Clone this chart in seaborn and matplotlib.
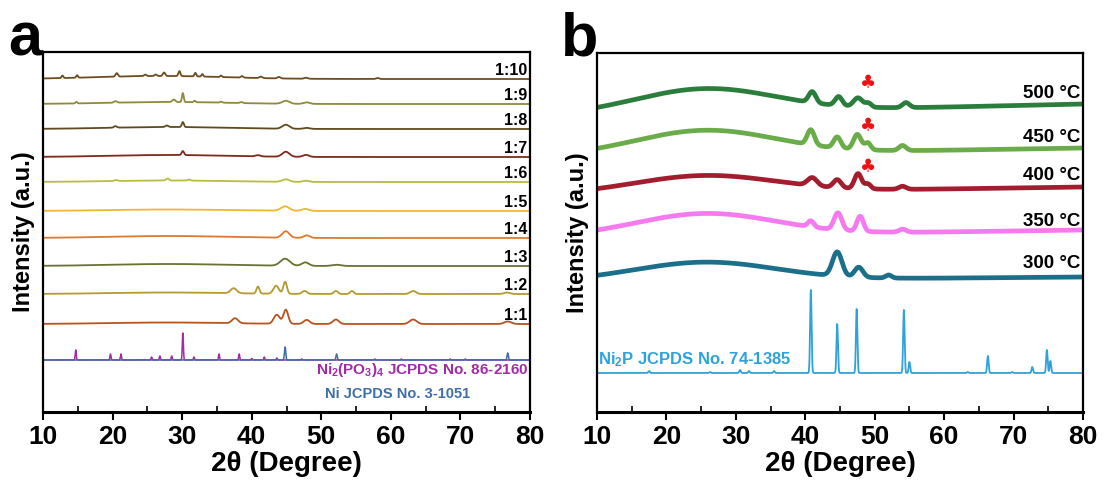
import numpy as np
import pandas as pd
import matplotlib
matplotlib.use("Agg")
import matplotlib.pyplot as plt
import seaborn as sns
from matplotlib import font_manager as fm

# ---------------- data ----------------
two_theta_range = (10, 80)
x_ticks = [10, 20, 30, 40, 50, 60, 70, 80]

# Panel a: Ni:P ratio series, bottom -> top
ratios = ["1:1", "1:2", "1:3", "1:4", "1:5", "1:6", "1:7", "1:8", "1:9", "1:10"]
ratio_colors = ["#b8531f", "#b59a2e", "#6b7132", "#e0792e", "#f2b632",
                "#b7bd3c", "#7d2a1c", "#5f4a1f", "#8e8a3c", "#6e4c22"]
ratio_offsets = [88, 118, 146, 174, 201, 230, 255, 283, 308, 333]
# peaks: (2theta, height, fwhm)
peaks_1_1 = [(28, 1.5, 20), (37.6, 5, 1.0), (43.6, 9, 1.0), (44.9, 14, 0.8), (47.9, 4, 1.0),
             (52.1, 4.5, 1.0), (63.2, 4.5, 1.2), (76.8, 2.5, 1.2)]
peaks_1_2 = [(28, 1.5, 20), (37.4, 5, 1.0), (40.9, 7, 0.5), (43.5, 8, 0.9), (44.8, 12, 0.6),
             (47.6, 3, 0.8), (52.1, 3, 0.7), (54.4, 3, 0.6), (63.2, 3, 1.0), (76.7, 1.5, 1.0)]
peaks_1_3 = [(28, 2, 20), (44.8, 7, 1.6), (47.7, 3.5, 1.2), (52.2, 1.2, 1.5)]
peaks_1_4 = [(28, 2, 20), (44.9, 6.5, 1.2), (47.9, 2.5, 1.0)]
peaks_1_5 = [(28, 1.5, 20), (44.8, 4.5, 1.4), (47.7, 2, 1.2)]
peaks_1_6 = [(28, 1.5, 20), (20.5, 1, 0.5), (27.9, 2, 0.5), (31.0, 1, 0.5), (44.9, 2.5, 1.2), (47.8, 1.2, 1.0)]
peaks_1_7 = [(28, 2, 20), (30.1, 4, 0.4), (40.9, 1.2, 0.8), (44.9, 5, 1.2), (47.8, 2, 1.0)]
peaks_1_8 = [(28, 2, 20), (20.4, 1.5, 0.5), (27.8, 1.5, 0.5), (30.1, 5, 0.35), (44.9, 4, 1.2), (47.9, 1, 1.0)]
peaks_1_9 = [(28, 2, 20), (14.8, 1.5, 0.3), (20.4, 1.5, 0.5), (28.8, 2.5, 0.5), (30.1, 9, 0.3),
             (31.8, 1.5, 0.3), (35.6, 1, 0.4), (38.5, 1, 0.5), (44.9, 3, 1.2), (47.9, 1.5, 1.0)]
peaks_1_10 = [(27, 3, 22), (12.8, 2.5, 0.3), (14.9, 2.5, 0.3), (20.6, 3.5, 0.4), (24.7, 1.5, 0.4),
              (26.2, 1.5, 0.4), (27.4, 3.5, 0.4), (29.6, 5, 0.35), (31.9, 3.5, 0.3), (32.9, 2.5, 0.3),
              (35.6, 1.5, 0.3), (38.6, 1.5, 0.4), (41.3, 1.5, 0.5), (43.9, 1.5, 0.5), (47.8, 1, 0.6),
              (58.1, 1, 0.5)]
ratio_peaks = [peaks_1_1, peaks_1_2, peaks_1_3, peaks_1_4, peaks_1_5,
               peaks_1_6, peaks_1_7, peaks_1_8, peaks_1_9, peaks_1_10]

# reference patterns, panel a
ref_a_offset = 52
ni2po34_pos = [14.7, 19.7, 21.2, 25.6, 26.8, 28.5, 30.1, 31.7, 35.3, 38.2, 40.0, 41.8, 43.6, 47.2,
               57.7, 61.5, 68.5, 70.7]
ni2po34_int = [10, 6, 6, 3, 4, 4, 27, 3, 6, 6, 1.5, 3, 2, 1, 1, 1, 1, 1]
ni_pos = [44.8, 52.2, 76.8]
ni_int = [13, 6, 7]
ni2po34_label = "Ni$_2$(PO$_3$)$_4$ JCPDS No. 86-2160"
ni_label = "Ni JCPDS No. 3-1051"

# Panel b: temperature series, bottom -> top
temps = ["300 °C", "350 °C", "400 °C", "450 °C", "500 °C"]
temp_colors = ["#1b6f8a", "#f57af0", "#a31d2e", "#6aac4a", "#2b7d3c"]
temp_left = [131, 175, 218, 256, 297]     # background level at 10°
temp_right = [135, 182, 225, 264, 308]    # background level at 80°
temp_hump = [18, 22, 17, 24, 24]          # amorphous hump height (~25.5°)
temp_label_y = [149, 190, 236, 275, 319]
peaks_300 = [(44.6, 24, 1.6), (47.7, 10, 1.4), (52.0, 3, 1.0)]
peaks_350 = [(40.8, 6, 1.0), (44.7, 17, 1.3), (47.9, 15, 1.1), (54.0, 3, 1.2)]
peaks_400 = [(41.0, 8, 1.6), (44.6, 8, 1.3), (47.6, 15, 1.2), (49.0, 5, 1.0), (54.0, 3, 1.2)]
peaks_450 = [(40.8, 15, 1.2), (44.6, 11, 1.2), (47.5, 15, 1.3), (49.0, 7, 1.0), (54.0, 5, 1.2)]
peaks_500 = [(41.0, 11, 1.2), (44.8, 9, 1.2), (47.6, 9, 1.5), (49.1, 4, 1.0), (54.5, 5, 1.2)]
temp_peaks = [peaks_300, peaks_350, peaks_400, peaks_450, peaks_500]
club_pos = [49.0, 49.0, 49.0]
club_y = [245, 286, 329]

# Ni2P reference, panel b
ni2p_offset = 39
ni2p_pos = [17.5, 26.3, 30.6, 31.9, 35.5, 40.8, 44.6, 47.4, 54.2, 55.0, 63.4, 66.3, 69.8, 72.7, 74.8, 75.3]
ni2p_int = [2, 1, 3, 2, 2, 83, 49, 64, 63, 11, 1, 17, 1, 6, 23, 12]
ni2p_label = "Ni$_2$P JCPDS No. 74-1385"
ni2p_color = "#2fa3d9"

# ---------------- helpers ----------------
tt = np.arange(10, 80.001, 0.02)


def profile(peaks):
    y = np.zeros_like(tt)
    for c, h, w in peaks:
        y += h * np.exp(-4 * np.log(2) * ((tt - c) / w) ** 2)
    return y


def sticks(pos, inten, w=0.18):
    return profile([(p, i, w) for p, i in zip(pos, inten)])


# ---------------- fonts / style ----------------
sns.set_theme(style="white")
names = {f.name for f in fm.fontManager.ttflist}
narrow = "Liberation Sans Narrow" if "Liberation Sans Narrow" in names else "Liberation Sans"
plt.rcParams["font.family"] = ["Liberation Sans", "DejaVu Sans"]
plt.rcParams["text.color"] = "black"
plt.rcParams["axes.labelcolor"] = "black"
plt.rcParams["xtick.color"] = "black"
plt.rcParams["mathtext.fontset"] = "custom"
plt.rcParams["mathtext.rm"] = "Liberation Sans:bold"
plt.rcParams["mathtext.it"] = "Liberation Sans:bold"
plt.rcParams["mathtext.bf"] = "Liberation Sans:bold"

fig = plt.figure(figsize=(11.04, 4.86), dpi=100)
ax_a = fig.add_axes([43 / 1104, 74 / 486, 487 / 1104, 360 / 486])
ax_b = fig.add_axes([597 / 1104, 74 / 486, 486 / 1104, 359 / 486])

# ---- panel a ----
for lab, col, off, pk in zip(ratios, ratio_colors, ratio_offsets, ratio_peaks):
    sns.lineplot(x=tt, y=off + profile(pk), ax=ax_a, color=col, linewidth=1.3, sort=False)
    ax_a.text(79.6, off + 1.5, lab, ha="right", va="bottom", fontsize=11.5,
              fontweight="bold", color="black", family=[narrow, "DejaVu Sans"])

sns.lineplot(x=tt, y=ref_a_offset + sticks(ni2po34_pos, ni2po34_int), ax=ax_a,
             color="#a42aa8", linewidth=1.1, sort=False)
sns.lineplot(x=tt, y=ref_a_offset + sticks(ni_pos, ni_int, 0.22), ax=ax_a,
             color="#3f6ea6", linewidth=1.1, sort=False)
ax_a.text(79.7, 42, ni2po34_label, ha="right", va="center", fontsize=11,
          fontweight="bold", color="#a42aa8")
ax_a.text(61.0, 18, ni_label, ha="center", va="center", fontsize=10.5,
          fontweight="bold", color="#3f6ea6", family=[narrow, "DejaVu Sans"])
ax_a.set_ylim(0, 360)

# ---- panel b ----
for lab, col, L, R, H, ly, pk in zip(temps, temp_colors, temp_left, temp_right, temp_hump,
                                     temp_label_y, temp_peaks):
    bg = L + (R - L) * (tt - 10) / 70 + profile([(25.5, H, 24)])
    sns.lineplot(x=tt, y=bg + profile(pk), ax=ax_b, color=col, linewidth=3.4, sort=False)
    ax_b.text(79.6, ly, lab, ha="right", va="center", fontsize=13.5,
              fontweight="bold", color="black")

sns.lineplot(x=tt, y=ni2p_offset + sticks(ni2p_pos, ni2p_int, 0.25), ax=ax_b,
             color=ni2p_color, linewidth=1.3, sort=False)
ax_b.text(10.2, 52, ni2p_label, ha="left", va="center", fontsize=12,
          fontweight="bold", color=ni2p_color)
for cx, cy in zip(club_pos, club_y):
    ax_b.text(cx, cy, "\u2663", ha="center", va="center", fontsize=13, color="#ee1111",
              family=["DejaVu Sans"])
ax_b.set_ylim(0, 359)

# ---- common axes styling ----
for ax in (ax_a, ax_b):
    ax.set_xlim(*two_theta_range)
    ax.set_xticks(x_ticks)
    ax.set_xticks(np.arange(15, 80, 10), minor=True)
    ax.set_yticks([])
    ax.tick_params(axis="x", which="major", direction="out", length=6, width=1.5,
                   bottom=True, pad=3, colors="black")
    ax.tick_params(axis="x", which="minor", direction="in", length=4, width=1.2, bottom=True)
    for lbl in ax.get_xticklabels():
        lbl.set_fontsize(19)
        lbl.set_fontweight("bold")
        lbl.set_family([narrow, "DejaVu Sans"])
    for s in ax.spines.values():
        s.set_color("black")
        s.set_linewidth(1.6)
    ax.spines["bottom"].set_linewidth(2.2)
    ax.set_xlabel("2\u03b8 (Degree)", fontsize=20, fontweight="bold",
                  family=[narrow, "DejaVu Sans"], labelpad=2, color="black")
    ax.set_ylabel("Intensity (a.u.)", fontsize=17, fontweight="bold", labelpad=6,
                  color="black")
    ax.grid(False)

fig.text(25 / 1104, 1 - 55 / 486, "a", fontsize=44, fontweight="bold", ha="center",
         va="baseline", color="black", family=[narrow, "DejaVu Sans"])
fig.text(580 / 1104, 1 - 55 / 486, "b", fontsize=44, fontweight="bold", ha="center",
         va="baseline", color="black", family=[narrow, "DejaVu Sans"])

fig.savefig("out.png", dpi=100)
